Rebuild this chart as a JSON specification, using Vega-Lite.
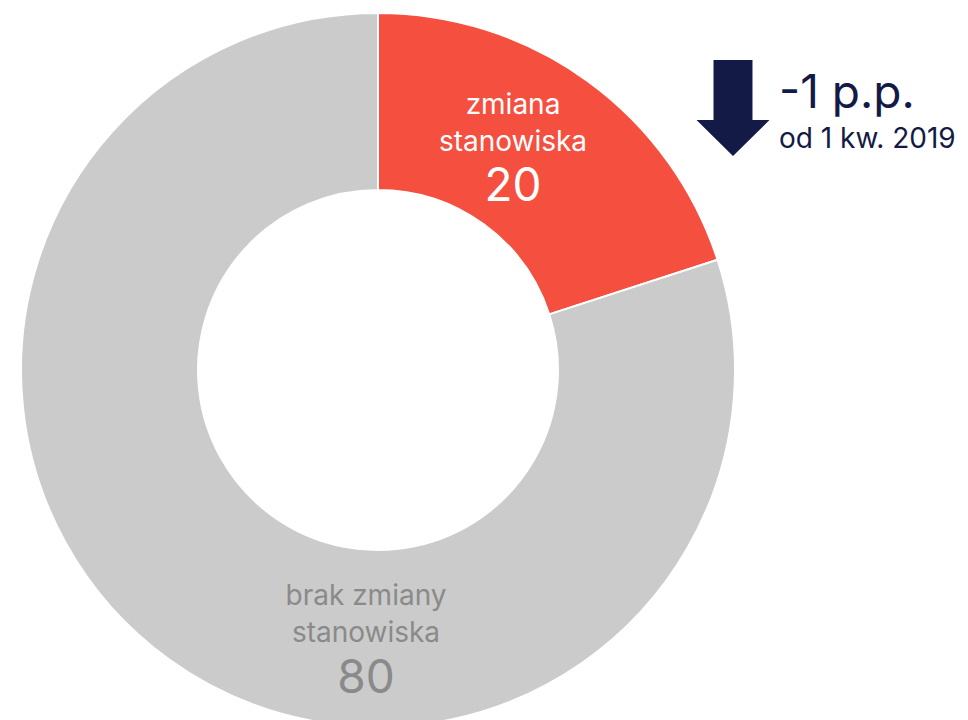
{
  "$schema": "https://vega.github.io/schema/vega-lite/v6.json",
  "width": 756,
  "height": 700,
  "autosize": "none",
  "padding": {"left": 0, "top": 20, "right": 212, "bottom": 0},
  "background": "white",
  "view": {"stroke": null},
  "config": {"font": "Inter", "text": {"font": "Inter"}},
  "datasets": {
    "shares": [
      {"category": "zmiana stanowiska", "label": "zmiana\nstanowiska", "value": 20},
      {"category": "brak zmiany stanowiska", "label": "brak zmiany\nstanowiska", "value": 80}
    ],
    "notes": [
      {"id": "change", "text": "-1 p.p."},
      {"id": "period", "text": "od 1 kw. 2019"}
    ]
  },
  "layer": [
    {
      "data": {"name": "shares"},
      "mark": {"type": "arc", "innerRadius": 180, "outerRadius": 357, "stroke": "white", "strokeWidth": 2},
      "encoding": {
        "theta": {"field": "value", "type": "quantitative", "stack": true},
        "order": {"field": "value", "type": "quantitative", "sort": "ascending"},
        "color": {
          "field": "category", "type": "nominal",
          "scale": {"domain": ["zmiana stanowiska", "brak zmiany stanowiska"], "range": ["#F54F40", "#CBCBCB"]},
          "legend": null
        }
      }
    },
    {
      "data": {"name": "shares"},
      "transform": [{"filter": "datum.value == 20"}],
      "mark": {"type": "text", "x": 513, "y": 94, "align": "center", "baseline": "alphabetic", "fontSize": 28, "lineBreak": "\n", "lineHeight": 37, "color": "white"},
      "encoding": {"text": {"field": "label"}}
    },
    {
      "data": {"name": "shares"},
      "transform": [{"filter": "datum.value == 20"}],
      "mark": {"type": "text", "x": 513, "y": 181, "align": "center", "baseline": "alphabetic", "fontSize": 46, "color": "white"},
      "encoding": {"text": {"field": "value"}}
    },
    {
      "data": {"name": "shares"},
      "transform": [{"filter": "datum.value == 80"}],
      "mark": {"type": "text", "x": 366, "y": 585, "align": "center", "baseline": "alphabetic", "fontSize": 28, "lineBreak": "\n", "lineHeight": 37, "color": "#8A8A8A"},
      "encoding": {"text": {"field": "label"}}
    },
    {
      "data": {"name": "shares"},
      "transform": [{"filter": "datum.value == 80"}],
      "mark": {"type": "text", "x": 366, "y": 673, "align": "center", "baseline": "alphabetic", "fontSize": 46, "color": "#8A8A8A"},
      "encoding": {"text": {"field": "value"}}
    },
    {
      "data": {"name": "notes"},
      "transform": [{"filter": "datum.id == 'change'"}],
      "mark": {"type": "point", "x": 733, "y": 88, "size": 9216, "filled": true, "opacity": 1, "strokeWidth": 0, "color": "#131A45",
        "shape": "M-0.406,-1 L0.406,-1 L0.406,0.25 L0.76,0.25 L0,1 L-0.76,0.25 L-0.406,0.25 Z"},
      "encoding": {}
    },
    {
      "data": {"name": "notes"},
      "transform": [{"filter": "datum.id == 'change'"}],
      "mark": {"type": "text", "x": 779, "y": 88, "align": "left", "baseline": "alphabetic", "fontSize": 46, "color": "#131A45"},
      "encoding": {"text": {"field": "text"}}
    },
    {
      "data": {"name": "notes"},
      "transform": [{"filter": "datum.id == 'period'"}],
      "mark": {"type": "text", "x": 779, "y": 128, "align": "left", "baseline": "alphabetic", "fontSize": 28, "color": "#131A45"},
      "encoding": {"text": {"field": "text"}}
    }
  ]
}
